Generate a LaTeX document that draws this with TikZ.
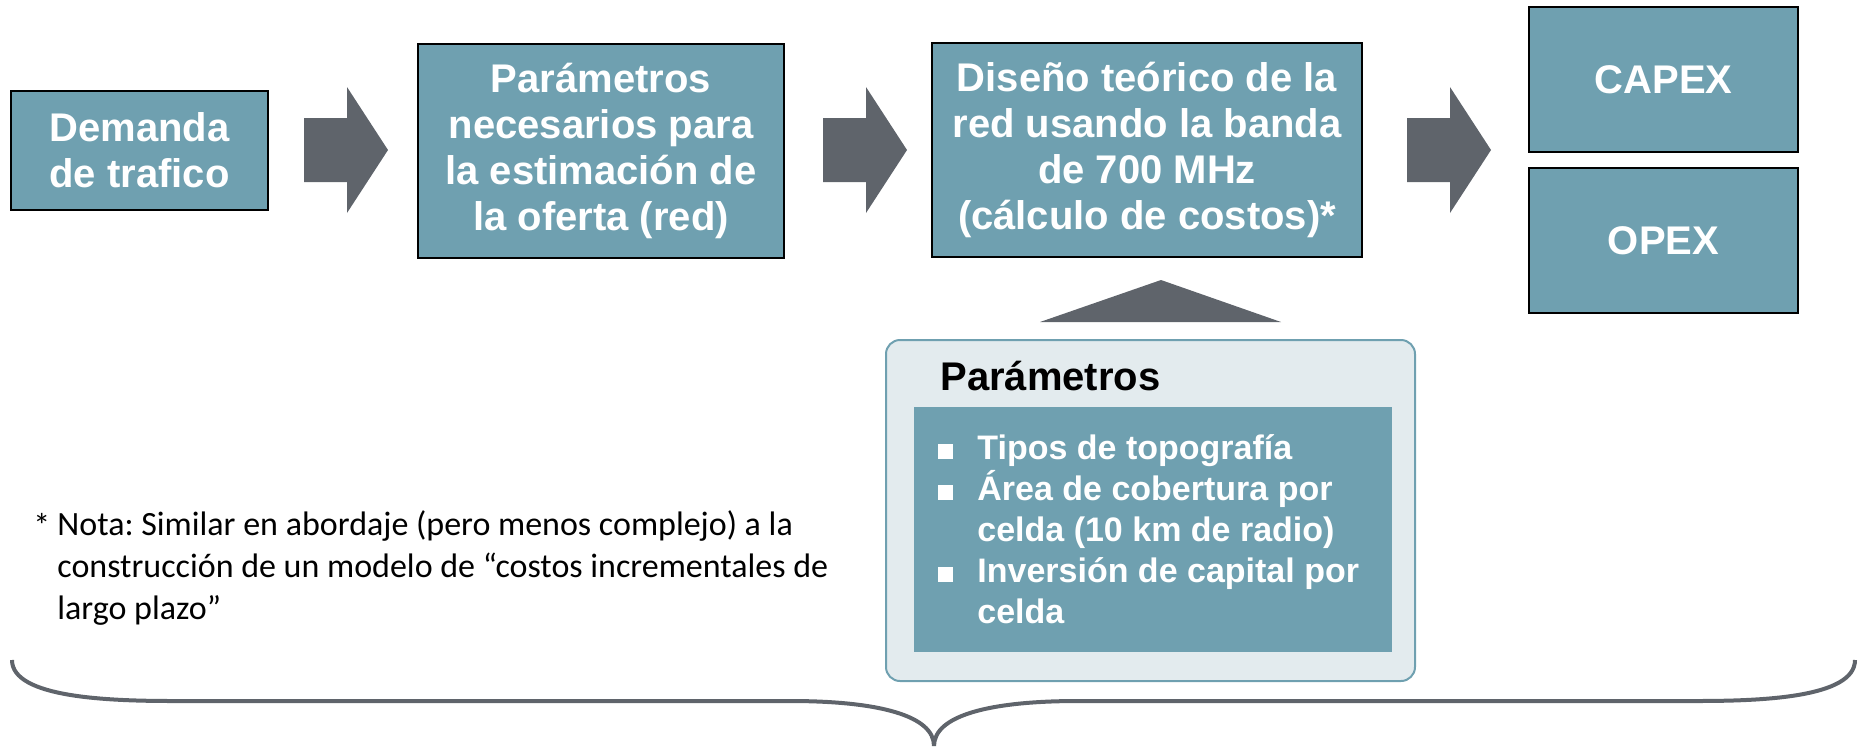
\documentclass[tikz,border=0pt]{standalone}
\usepackage{fontspec}
\setmainfont{Liberation Sans}
\newfontfamily\notefont{Carlito}
\definecolor{boxteal}{HTML}{6FA0B0}
\definecolor{lightbg}{HTML}{E3EBEE}
\definecolor{arrowgrey}{HTML}{5F646B}
\frenchspacing
\begin{document}
\begin{tikzpicture}[x=0.5pt,y=-0.5pt,
  box/.style={draw=black, line width=1pt, fill=boxteal, text=white,
    font=\bfseries\fontsize{20}{23}\selectfont, align=center, inner sep=0pt},
  blockarrow/.style={fill=arrowgrey},
  bullettext/.style={anchor=base west, text=white, align=left, inner sep=0pt,
    font=\bfseries\fontsize{17}{20.5}\selectfont},
  notetext/.style={anchor=base west, align=left, inner sep=0pt,
    font=\notefont\fontsize{17}{21}\selectfont},
  brace/.style={draw=arrowgrey, line width=2pt}]
\useasboundingbox (0,0) rectangle (1858,746);

% main boxes
\node[box, minimum width=128.5pt, minimum height=59.5pt] (dem) at (139.5,150.5) {Demanda\\de trafico};
\node[box, minimum width=183pt, minimum height=107pt] (par) at (601,151) {Parámetros\\necesarios para\\la estimación de\\la oferta (red)};
\node[box, minimum width=215pt, minimum height=107pt] (dis) at (1147,150) {Diseño teórico de la\\red usando la banda\\de 700 MHz\\(cálculo de costos)*};
\node[box, minimum width=134.5pt, minimum height=72.5pt] (capex) at (1663.5,79.5) {CAPEX};
\node[box, minimum width=134.5pt, minimum height=72.5pt] (opex) at (1663.5,240.5) {OPEX};

% block arrows
\foreach \xl in {304,823,1407}{
  \fill[blockarrow] (\xl,118) -- (\xl+43,118) -- (\xl+43,87) -- (\xl+84,150)
    -- (\xl+43,213) -- (\xl+43,182) -- (\xl,182) -- cycle;
}
% up triangle
\fill[blockarrow] (1040,322) -- (1161,280) -- (1281,322) -- cycle;

% parameter panel
\draw[draw=boxteal, fill=lightbg, line width=1pt, rounded corners=7pt] (886,340) rectangle (1415,681);
\fill[boxteal] (914,407) rectangle (1392,652);
\node[anchor=base west, inner sep=0pt, font=\bfseries\fontsize{20}{23}\selectfont] (ph) at (940,390) {Parámetros};
\foreach \yb in {459,500,582}{
  \fill[white] (938,\yb-15) rectangle (953,\yb);
}
% (base anchor of a multi-line node lies on its last line)
\node[bullettext] (b1) at (977,459) {Tipos de topografía};
\node[bullettext] (b2) at (977,541) {Área de cobertura por\\celda (10 km de radio)};
\node[bullettext] (b3) at (977,623) {Inversión de capital por\\celda};

% note
\node[notetext] (ast) at (33,537) {*};
\node[notetext] (note) at (57,619) {Nota: Similar en abordaje (pero menos complejo) a la\\construcción de un modelo de “costos incrementales de\\largo plazo”};

% brace
\draw[brace] (12,660) .. controls (12,698) and (110,701) .. (175,701) -- (790,701)
  .. controls (880,701) and (934,716) .. (934,746);
\draw[brace] (934,746) .. controls (934,716) and (988,701) .. (1078,701) -- (1695,701)
  .. controls (1760,701) and (1855,698) .. (1855,660);
\end{tikzpicture}
\end{document}
